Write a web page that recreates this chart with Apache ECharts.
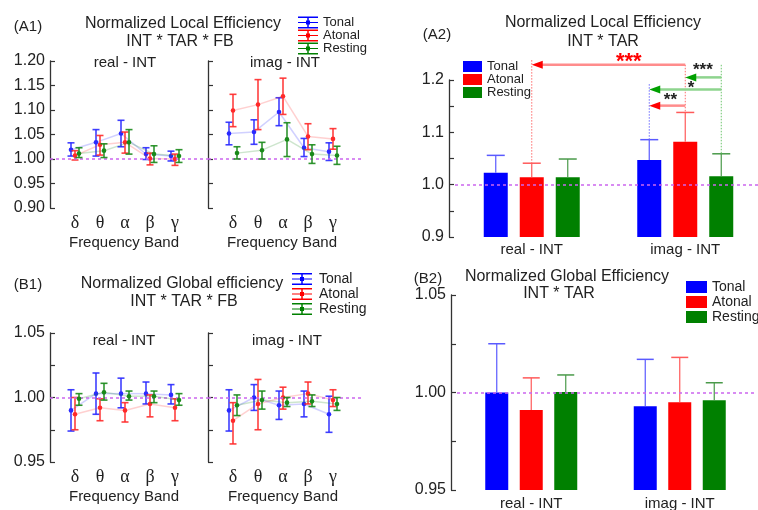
<!DOCTYPE html>
<html><head><meta charset="utf-8">
<script src="https://cdn.jsdelivr.net/npm/echarts@6/dist/echarts.min.js"></script>
<style>html,body{margin:0;padding:0;background:#fff}#c{width:758px;height:510px}</style>
</head><body><div id="c"></div>
<script>
// ---------------- DATA ----------------
const bands = ['δ', 'θ', 'α', 'β', 'γ'];
const seriesNames = ['Tonal', 'Atonal', 'Resting'];
const groups = ['real - INT', 'imag - INT'];

// A1: Normalized Local Efficiency, [mean, lower, upper] per band
const a1RealTonal   = [[1.019,1.006,1.033],[1.034,1.006,1.060],[1.052,1.025,1.079],[1.010,0.999,1.023],[1.006,0.996,1.016]];
const a1RealAtonal  = [[1.007,0.998,1.017],[1.029,1.008,1.048],[1.034,1.012,1.055],[1.001,0.988,1.012],[1.000,0.987,1.010]];
const a1RealResting = [[1.011,1.003,1.023],[1.017,1.003,1.031],[1.034,1.010,1.060],[1.010,0.993,1.027],[1.006,0.993,1.019]];
const a1ImagTonal   = [[1.052,1.029,1.075],[1.055,1.030,1.080],[1.096,1.068,1.125],[1.023,1.005,1.042],[1.015,0.997,1.033]];
const a1ImagAtonal  = [[1.099,1.066,1.132],[1.111,1.060,1.162],[1.128,1.091,1.165],[1.046,1.019,1.072],[1.041,1.020,1.062]];
const a1ImagResting = [[1.012,1.000,1.025],[1.018,1.000,1.034],[1.040,1.005,1.074],[1.010,0.991,1.029],[1.007,0.989,1.026]];

// B1: Normalized Global efficiency, [mean, lower, upper] per band
const b1RealTonal   = [[0.990,0.974,1.006],[1.003,0.987,1.019],[1.003,0.992,1.015],[1.003,0.995,1.012],[1.002,0.995,1.010]];
const b1RealAtonal  = [[0.987,0.975,1.000],[0.992,0.982,0.999],[0.990,0.981,0.996],[0.995,0.985,1.002],[0.992,0.982,0.999]];
const b1RealResting = [[0.999,0.994,1.003],[1.004,0.998,1.011],[1.001,0.998,1.005],[1.001,0.996,1.005],[0.998,0.994,1.003]];
const b1ImagTonal   = [[0.990,0.974,1.006],[1.000,0.990,1.010],[0.994,0.983,1.005],[0.995,0.985,1.005],[0.987,0.973,1.001]];
const b1ImagAtonal  = [[0.982,0.964,0.996],[0.995,0.975,1.014],[1.000,0.991,1.008],[1.003,0.995,1.012],[0.998,0.993,1.006]];
const b1ImagResting = [[0.994,0.986,1.002],[0.998,0.991,1.005],[0.996,0.993,1.000],[0.997,0.993,1.002],[0.995,0.990,1.000]];

// A2: Normalized Local Efficiency, INT * TAR (real, imag)
const a2Tonal = [1.023, 1.047];     const a2TonalErr = [1.056, 1.086];
const a2Atonal = [1.014, 1.082];    const a2AtonalErr = [1.041, 1.138];
const a2Resting = [1.014, 1.016];   const a2RestingErr = [1.049, 1.059];

// B2: Normalized Global Efficiency, INT * TAR (real, imag)
const b2Tonal = [1.000, 0.993];     const b2TonalErr = [1.025, 1.017];
const b2Atonal = [0.991, 0.995];    const b2AtonalErr = [1.0075, 1.018];
const b2Resting = [1.0003, 0.996];  const b2RestingErr = [1.009, 1.005];

// A2 significance brackets: from [group, series] to [group, series] at level
const a2SigFrom  = [[1,1],[1,2],[1,2],[1,1]];
const a2SigTo    = [[0,1],[1,1],[1,0],[1,0]];
const a2SigLevel = [1.229, 1.205, 1.182, 1.151];
const a2SigStars = ['***', '***', '*', '**'];
// vertical guides: [group, series] and top level
const a2GuideAt  = [[0,1],[1,1],[1,0],[1,2]];
const a2GuideTop = [1.238, 1.229, 1.192, 1.229];

// ---------------- STYLE ----------------
const FONT = '"Liberation Sans", Arial, sans-serif';
const barColors = ['#0000ff', '#ff0000', '#008000'];
const errColors = ['#2a2aff', '#ff2a2a', '#1a8a1a'];
const barErrColors = ['#5a5aff', '#ff5a5a', '#4a9a4a'];
const dotOffsets = [-4, 0, 4];
const refLineColor = '#cc66ee';
const axisColor = '#333';
const starFrac = [0.368, 0.51, 0.42, 0.41];
const starDy = [8, 1.5, 7, 3.6];

const chart = echarts.init(document.getElementById('c'), null, {renderer: 'canvas'});

function errRender(arr, si) {
  return function (params, api) {
    const idx = params.dataIndex;
    const x = api.value(0);
    const pM = api.coord([x, api.value(1)]);
    const pLo = api.coord([x, api.value(2)]);
    const pHi = api.coord([x, api.value(3)]);
    const off = dotOffsets[si];
    const cx = pM[0] + off;
    const col = errColors[si];
    const children = [];
    if (idx > 0) {
      const pp = api.coord([x - 1, arr[idx - 1][0]]);
      children.push({type: 'line', shape: {x1: pp[0] + off, y1: pp[1], x2: cx, y2: pM[1]},
        style: {stroke: col, lineWidth: 1.5, opacity: 0.22}});
    }
    children.push({type: 'line', shape: {x1: cx, y1: pLo[1], x2: cx, y2: pHi[1]}, style: {stroke: col, lineWidth: 1.6, opacity: 0.9}});
    children.push({type: 'line', shape: {x1: cx - 3.5, y1: pLo[1], x2: cx + 3.5, y2: pLo[1]}, style: {stroke: col, lineWidth: 1.6, opacity: 0.9}});
    children.push({type: 'line', shape: {x1: cx - 3.5, y1: pHi[1], x2: cx + 3.5, y2: pHi[1]}, style: {stroke: col, lineWidth: 1.6, opacity: 0.9}});
    children.push({type: 'circle', shape: {cx: cx, cy: pM[1], r: 2.3}, style: {fill: col}});
    return {type: 'group', children};
  };
}

function errSeries(arr, si, gi) {
  return {
    type: 'custom', name: seriesNames[si], xAxisIndex: gi, yAxisIndex: gi,
    itemStyle: {color: barColors[si]},
    renderItem: errRender(arr, si),
    encode: {x: 0, y: 1},
    data: arr.map((d, i) => [i + 1, d[0], d[1], d[2]]),
    silent: true, z: 3 + si
  };
}

function refLine(gi) {
  return {
    type: 'line', xAxisIndex: gi, yAxisIndex: gi, data: [], silent: true,
    markLine: {silent: true, symbol: 'none', label: {show: false},
      lineStyle: {color: refLineColor, type: [3, 3], width: 1.5}, data: [{yAxis: 1}]}
  };
}

function barErrSeries(gi, means, errs, step, capHalf) {
  const data = [];
  means.forEach((m, si) => m.forEach((v, ci) => data.push([ci, si, v, errs[si][ci]])));
  return {
    type: 'custom', xAxisIndex: gi, yAxisIndex: gi, silent: true, z: 4,
    encode: {x: 0, y: 2},
    renderItem: function (params, api) {
      const ci = api.value(0), si = api.value(1);
      const pM = api.coord([ci, api.value(2)]);
      const pT = api.coord([ci, api.value(3)]);
      const cx = pM[0] + (si - 1) * step;
      const col = barErrColors[si];
      return {type: 'group', children: [
        {type: 'line', shape: {x1: cx, y1: pM[1], x2: cx, y2: pT[1]}, style: {stroke: col, lineWidth: 1.2}},
        {type: 'line', shape: {x1: cx - capHalf, y1: pT[1], x2: cx + capHalf, y2: pT[1]}, style: {stroke: col, lineWidth: 1.5}}
      ]};
    },
    data
  };
}

const a2Step = 36, b2Step = 34.5;
const a2Errs = [a2TonalErr, a2AtonalErr, a2RestingErr];

const sigSeries = {
  type: 'custom', xAxisIndex: 2, yAxisIndex: 2, silent: true, z: 6, clip: false,
  encode: {x: 0, y: 1},
  data: a2SigLevel.map((lv, i) => [a2SigTo[i][0], lv]),
  renderItem: function (params, api) {
    const i = params.dataIndex;
    const lv = a2SigLevel[i];
    const f = a2SigFrom[i], t = a2SigTo[i];
    const pf = api.coord([f[0], lv]);
    const pt = api.coord([t[0], lv]);
    const xf = pf[0] + (f[1] - 1) * a2Step;
    const xt = pt[0] + (t[1] - 1) * a2Step;
    const y = pf[1];
    const between = f[0] !== t[0];
    const strong = f[1] === 1 ? '#ff0000' : '#00a000';
    const light = f[1] === 1 ? '#ff8c8c' : '#8ed48e';
    const tx = xf + (xt - xf) * starFrac[i];
    return {type: 'group', children: [
      {type: 'line', shape: {x1: xf, y1: y, x2: xt + 9, y2: y}, style: {stroke: light, lineWidth: 2.5}},
      {type: 'polygon', shape: {points: [[xt, y], [xt + 11, y - 4], [xt + 11, y + 4]]}, style: {fill: strong}},
      {type: 'text', x: tx, y: y + starDy[i],
        style: {text: a2SigStars[i], fill: between ? '#ff0000' : '#222',
          font: (between ? 'bold 22px ' : 'bold 17px ') + FONT,
          align: 'center', verticalAlign: 'bottom', textAlign: 'center', textVerticalAlign: 'bottom'}}
    ]};
  }
};

const guideSeries = {
  type: 'custom', xAxisIndex: 2, yAxisIndex: 2, silent: true, z: 5, clip: false,
  encode: {x: 0, y: 1},
  data: a2GuideTop.map((lv, i) => [a2GuideAt[i][0], lv]),
  renderItem: function (params, api) {
    const i = params.dataIndex;
    const g = a2GuideAt[i];
    const pTop = api.coord([g[0], a2GuideTop[i]]);
    const pBot = api.coord([g[0], a2Errs[g[1]][g[0]]]);
    const x = pTop[0] + (g[1] - 1) * a2Step;
    const col = ['#6c6cff', '#ff6c6c', '#6cc46c'][g[1]];
    return {type: 'line', shape: {x1: x, y1: pTop[1], x2: x, y2: pBot[1]},
      style: {stroke: col, lineWidth: 1, lineDash: [1.5, 1.5]}};
  }
};

function yAxis(gi, min, max, interval, labelStep, digits, showLabels, offset) {
  return {
    type: 'value', gridIndex: gi, min, max, interval, offset: offset || 0,
    axisLine: {show: true, lineStyle: {color: axisColor, width: 1.3}},
    axisTick: {show: true, inside: true, length: 5, lineStyle: {color: axisColor, width: 1.2}},
    splitLine: {show: false},
    axisLabel: {show: showLabels, fontFamily: FONT, fontSize: 16, color: '#222', margin: 5,
      formatter: function (v) {
        const k = v / labelStep;
        return Math.abs(k - Math.round(k)) < 1e-6 ? v.toFixed(digits) : '';
      }}
  };
}

function xBandAxis(gi, max) {
  return {
    type: 'value', gridIndex: gi, min: 0, max, interval: 1,
    axisLine: {show: false}, axisTick: {show: false}, splitLine: {show: false},
    axisLabel: {fontFamily: '"Liberation Serif", "DejaVu Serif", serif', fontSize: 18, color: '#222', margin: 6,
      showMinLabel: false, showMaxLabel: false,
      formatter: function (v) { return Number.isInteger(v) && bands[v - 1] ? bands[v - 1] : ''; }}
  };
}

function xGroupAxis(gi, margin) {
  return {
    type: 'category', gridIndex: gi, data: groups,
    axisLine: {show: false}, axisTick: {show: false}, splitLine: {show: false},
    axisLabel: {fontFamily: FONT, fontSize: 15, color: '#222', margin: margin}
  };
}

const errIcon = 'path://M0,0H20V1.5H0Z M0,10.5H20V12H0Z M9.25,0H10.75V12H9.25Z M0,5.6H20V6.4H0Z M8,4H12V8H8Z';
function mkLegend(left, top, icon, w, h, fontSize, gap) {
  return {
    left, top, orient: 'vertical', padding: 0, itemGap: gap, itemWidth: w, itemHeight: h,
    selectedMode: false, icon,
    textStyle: {fontFamily: FONT, fontSize, color: '#222'},
    data: seriesNames.map((n, i) => ({name: n, icon, itemStyle: {color: barColors[i]}}))
  };
}

function txt(text, x, y, size, extra) {
  return {type: 'text', x, y, silent: true,
    style: Object.assign({text, fill: '#222', font: size + 'px ' + FONT,
      align: 'center', verticalAlign: 'middle', textAlign: 'center', textVerticalAlign: 'middle'}, extra || {})};
}

const gridBase = {containLabel: false, outerBoundsMode: 'none'};

const option = {
  animation: false,
  backgroundColor: '#fff',
  grid: [
    Object.assign({left: 50, top: 61, width: 158, height: 147}, gridBase),
    Object.assign({left: 208, top: 61, width: 154, height: 147}, gridBase),
    Object.assign({left: 455, top: 80, width: 307, height: 157}, gridBase),
    Object.assign({left: 50, top: 333, width: 158, height: 129}, gridBase),
    Object.assign({left: 208, top: 333, width: 154, height: 129}, gridBase),
    Object.assign({left: 457, top: 295, width: 297, height: 195}, gridBase)
  ],
  xAxis: [
    xBandAxis(0, 6.32), xBandAxis(1, 6.16), xGroupAxis(2, 5),
    xBandAxis(3, 6.32), xBandAxis(4, 6.16), xGroupAxis(5, 6)
  ],
  yAxis: [
    yAxis(0, 0.9, 1.2, 0.05, 0.05, 2, true),
    yAxis(1, 0.9, 1.2, 0.05, 0.05, 2, false),
    yAxis(2, 0.9, 1.2, 0.05, 0.1, 1, true, 6),
    yAxis(3, 0.95, 1.05, 0.025, 0.05, 2, true),
    yAxis(4, 0.95, 1.05, 0.025, 0.05, 2, false),
    yAxis(5, 0.95, 1.05, 0.025, 0.05, 2, true, 6)
  ],
  legend: [
    mkLegend(298, 16, errIcon, 20, 12, 13, 0),
    mkLegend(463, 60, 'rect', 19, 11, 13, 0),
    mkLegend(292, 272, errIcon, 24, 12, 14, 1),
    mkLegend(686, 280, 'rect', 21, 12, 14, 1)
  ],
  graphic: [
    txt('(A1)', 28, 27, 15),
    txt('Normalized Local Efficiency', 183, 24, 16),
    txt('INT * TAR * FB', 180, 42, 16),
    txt('real - INT', 125, 63, 15),
    txt('imag - INT', 285, 63, 15),
    txt('Frequency Band', 124, 243, 15),
    txt('Frequency Band', 282, 243, 15),
    txt('(A2)', 437, 35, 15),
    txt('Normalized Local Efficiency', 603, 23, 16),
    txt('INT * TAR', 603, 42, 16),
    txt('(B1)', 28, 285, 15),
    txt('Normalized Global efficiency', 182, 284, 16),
    txt('INT * TAR * FB', 184, 302, 16),
    txt('real - INT', 124, 341, 15),
    txt('imag - INT', 287, 341, 15),
    txt('Frequency Band', 124, 497, 15),
    txt('Frequency Band', 283, 497, 15),
    txt('(B2)', 428, 279, 15),
    txt('Normalized Global Efficiency', 567, 277, 16),
    txt('INT * TAR', 559, 294, 16)
  ],
  series: [
    refLine(0), refLine(1), refLine(3), refLine(4), refLine(2), refLine(5),
    errSeries(a1RealTonal, 0, 0), errSeries(a1RealAtonal, 1, 0), errSeries(a1RealResting, 2, 0),
    errSeries(a1ImagTonal, 0, 1), errSeries(a1ImagAtonal, 1, 1), errSeries(a1ImagResting, 2, 1),
    errSeries(b1RealTonal, 0, 3), errSeries(b1RealAtonal, 1, 3), errSeries(b1RealResting, 2, 3),
    errSeries(b1ImagTonal, 0, 4), errSeries(b1ImagAtonal, 1, 4), errSeries(b1ImagResting, 2, 4),
    {type: 'bar', name: 'Tonal', xAxisIndex: 2, yAxisIndex: 2, data: a2Tonal, barWidth: 24, barGap: '50%', itemStyle: {color: barColors[0]}, silent: true},
    {type: 'bar', name: 'Atonal', xAxisIndex: 2, yAxisIndex: 2, data: a2Atonal, barWidth: 24, barGap: '50%', itemStyle: {color: barColors[1]}, silent: true},
    {type: 'bar', name: 'Resting', xAxisIndex: 2, yAxisIndex: 2, data: a2Resting, barWidth: 24, barGap: '50%', itemStyle: {color: barColors[2]}, silent: true},
    barErrSeries(2, [a2Tonal, a2Atonal, a2Resting], a2Errs, a2Step, 9),
    {type: 'bar', name: 'Tonal', xAxisIndex: 5, yAxisIndex: 5, data: b2Tonal, barWidth: 23, barGap: '50%', itemStyle: {color: barColors[0]}, silent: true},
    {type: 'bar', name: 'Atonal', xAxisIndex: 5, yAxisIndex: 5, data: b2Atonal, barWidth: 23, barGap: '50%', itemStyle: {color: barColors[1]}, silent: true},
    {type: 'bar', name: 'Resting', xAxisIndex: 5, yAxisIndex: 5, data: b2Resting, barWidth: 23, barGap: '50%', itemStyle: {color: barColors[2]}, silent: true},
    barErrSeries(5, [b2Tonal, b2Atonal, b2Resting], [b2TonalErr, b2AtonalErr, b2RestingErr], b2Step, 8.5),
    guideSeries,
    sigSeries
  ]
};
chart.setOption(option);
</script>
</body></html>
